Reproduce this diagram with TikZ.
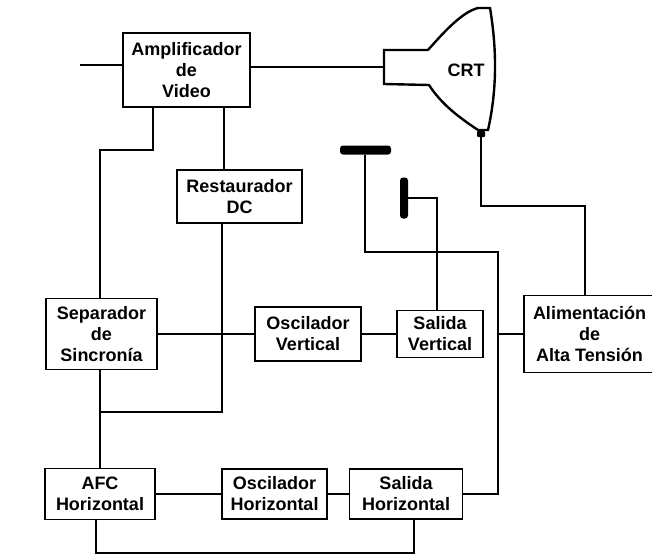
\documentclass[tikz,border=0pt]{standalone}
\usepackage{fontspec}
\setmainfont{Liberation Sans}
\tikzset{
  block/.style={draw=black, line width=1.9pt, inner sep=0pt, align=center, font=\fontsize{18}{21}\selectfont\bfseries},
  plate/.style={fill=black, rounded corners=3pt, inner sep=0pt},
  wire/.style={black, line width=2.4pt, line join=miter}
}

\begin{document}
\begin{tikzpicture}[x=1pt, y=-1pt]
  \useasboundingbox (0,0) rectangle (652,555);
  % blocks
  \node[block, minimum width=127pt, minimum height=74pt] (amp) at (186.5,70) {Amplificador\\de\\Video};
  \node[block, minimum width=125pt, minimum height=53pt] (rest) at (239.5,196.5) {Restaurador\\DC};
  \node[block, minimum width=111pt, minimum height=71pt] (sep) at (101.5,334) {Separador\\de\\Sincronía};
  \node[block, minimum width=106pt, minimum height=54pt] (oscv) at (308,334) {Oscilador\\Vertical};
  \node[block, minimum width=86pt, minimum height=47pt] (salv) at (440,334) {Salida\\Vertical};
  \node[block, minimum width=131pt, minimum height=77pt] (alim) at (589.5,334) {Alimentación\\de\\Alta Tensión};
  \node[block, minimum width=110pt, minimum height=51pt] (afc) at (100,494) {AFC\\Horizontal};
  \node[block, minimum width=105pt, minimum height=50pt] (osch) at (274.5,494) {Oscilador\\Horizontal};
  \node[block, minimum width=113pt, minimum height=50pt] (salh) at (406,494) {Salida\\Horizontal};
  % deflection plates
  \node[plate, minimum width=51pt, minimum height=9pt] (plateh) at (365.5,150) {};
  \node[plate, minimum width=8pt, minimum height=41pt] (platev) at (404,198) {};
  % tube
  \coordinate (necktop) at (384,50);
  \coordinate (neckin) at (384,67);
  \coordinate (neckbot) at (384,84);
  \coordinate (hv) at (481,132);
  \draw[wire] (428,50) -- (necktop) -- (neckbot) -- (429,85)
    .. controls (442,105) and (460,118) .. (478,130) -- (488,130)
    .. controls (497,90) and (497,50) .. (490,8) -- (478,8)
    .. controls (462,12) and (444,32) .. (428,50);
  \node[font=\fontsize{18}{21}\selectfont\bfseries] (crt) at (466,70) {CRT};
  \node[plate, rounded corners=1pt, minimum width=8pt, minimum height=6pt] (pin) at (481,134) {};
  % signal path
  \coordinate (input) at (80,65);
  \draw[wire] (input) -- (input -| amp.west);
  \draw[wire] (neckin -| amp.east) -- (neckin);
  \coordinate (syncbend) at (100,150);
  \coordinate (syncout) at (153,150);
  \draw[wire] (syncout |- amp.south) -- (syncout) -- (syncbend) -- (syncbend |- sep.north);
  \draw[wire] (rest.north -| 224,0) -- (amp.south -| 224,0);
  \coordinate (dcbend) at (222,412);
  \coordinate (dcjoin) at (100,412);
  \draw[wire] (dcbend |- rest.south) -- (dcbend) -- (dcjoin);
  \draw[wire] (dcjoin |- sep.south) -- (dcjoin |- afc.north);
  % sync to oscillators
  \draw[wire] (sep.east) -- (oscv.west);
  \draw[wire] (oscv.east) -- (salv.west);
  \draw[wire] (afc.east) -- (osch.west);
  \draw[wire] (osch.east) -- (salh.west);
  % outputs
  \coordinate (vbend) at (437,198);
  \draw[wire] (vbend |- salv.north) -- (vbend) -- (platev.east);
  \coordinate (hcorner) at (498,494);
  \coordinate (htop) at (498,252);
  \coordinate (hplate) at (365,252);
  \draw[wire] (salh.east) -- (hcorner) -- (htop) -- (hplate) -- (hplate |- plateh.south);
  \draw[wire] (hcorner |- alim.west) -- (alim.west);
  \coordinate (hvbend) at (585,206);
  \draw[wire] (hvbend |- alim.north) -- (hvbend) -- (hvbend -| hv) -- (pin.south);
  % feedback
  \coordinate (fbleft) at (96,553);
  \coordinate (fbright) at (414,553);
  \draw[wire] (fbleft |- afc.south) -- (fbleft) -- (fbright) -- (fbright |- salh.south);
\end{tikzpicture}
\end{document}
